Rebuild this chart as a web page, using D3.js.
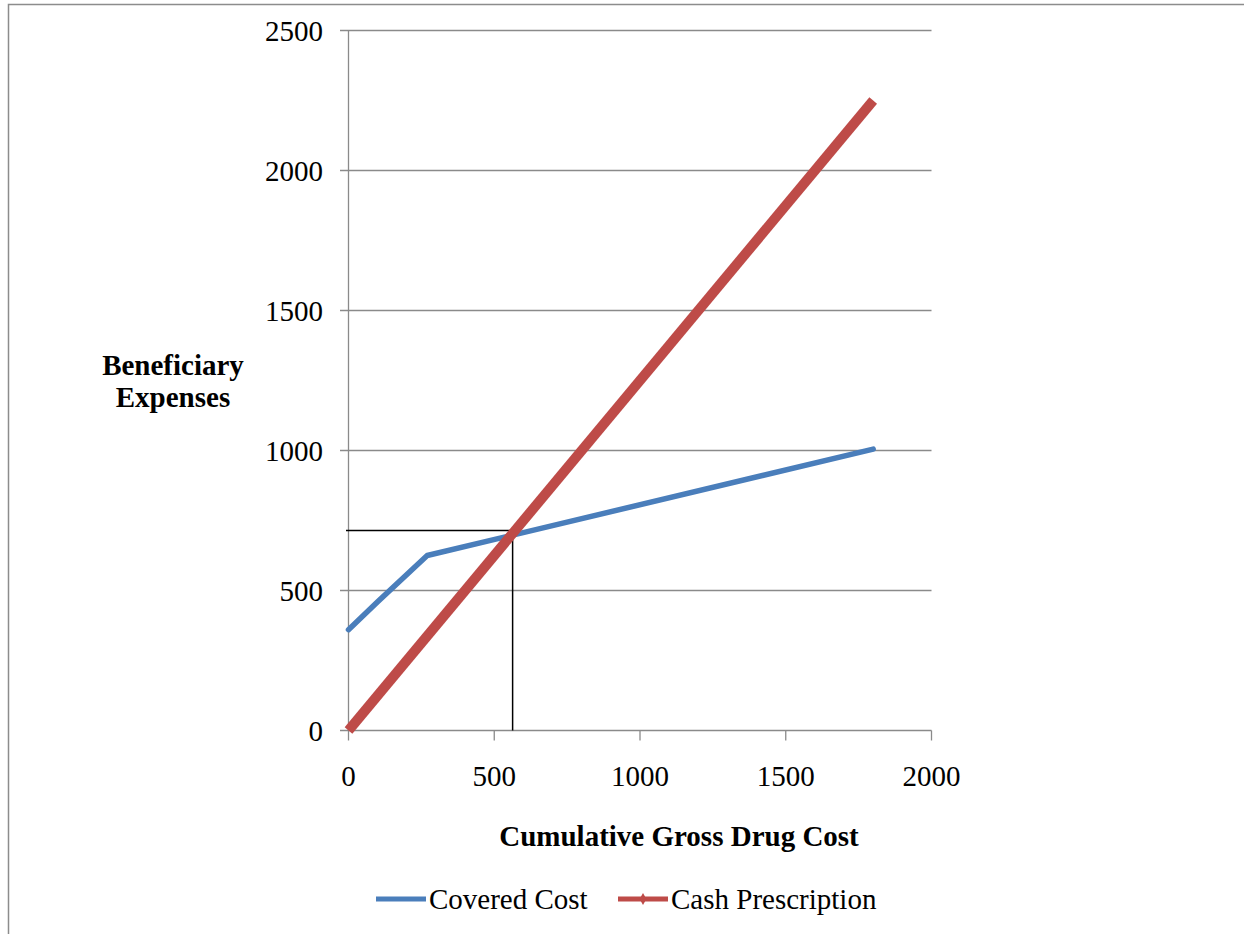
<!DOCTYPE html>
<html><head><meta charset="utf-8">
<script src="https://cdn.jsdelivr.net/npm/d3@7"></script>
<style>body{margin:0;background:#fff}svg{display:block}text{font-family:"Liberation Serif","Times New Roman",serif;fill:#000}</style>
</head><body><svg id="c" width="1244" height="934"></svg>
<script>
const xTicks = [0, 500, 1000, 1500, 2000];
const yTicks = [0, 500, 1000, 1500, 2000, 2500];
const coveredX = [0, 100, 270, 1800];
const coveredY = [360, 460, 625, 1005];
const cashX = [0, 1800];
const cashY = [0, 2250];
const refPoint = [563, 714];
const seriesNames = ["Covered Cost", "Cash Prescription"];
const xTitle = "Cumulative Gross Drug Cost";
const yTitle = ["Beneficiary", "Expenses"];

const svg = d3.select("#c");
const fs = 29;
svg.append("rect").attr("x", 8.5).attr("y", 4.5).attr("width", 1300).attr("height", 1000)
  .attr("fill", "none").attr("stroke", "#8c8c8c").attr("stroke-width", 1.5);

const x = d3.scaleLinear().domain([0, 2000]).range([348.5, 931.5]);
const y = d3.scaleLinear().domain([0, 2500]).range([730.5, 30.5]);

// gridlines
svg.append("g").selectAll("line").data(yTicks).join("line")
  .attr("x1", 340).attr("x2", x(2000)).attr("y1", d => y(d)).attr("y2", d => y(d))
  .attr("stroke", "#8a8a8a").attr("stroke-width", 1.3);
// y axis line
svg.append("line").attr("x1", x(0)).attr("x2", x(0)).attr("y1", y(2500)).attr("y2", y(0))
  .attr("stroke", "#8a8a8a").attr("stroke-width", 1.3);
// x axis ticks
svg.append("g").selectAll("line").data(xTicks).join("line")
  .attr("x1", d => x(d)).attr("x2", d => x(d)).attr("y1", y(0)).attr("y2", y(0) + 10)
  .attr("stroke", "#8a8a8a").attr("stroke-width", 1.3);

// y tick labels
svg.append("g").selectAll("text").data(yTicks).join("text")
  .attr("x", 323).attr("y", d => y(d) + 10).attr("text-anchor", "end")
  .attr("font-size", fs).text(d => d);
// x tick labels
svg.append("g").selectAll("text").data(xTicks).join("text")
  .attr("x", d => x(d)).attr("y", 786).attr("text-anchor", "middle")
  .attr("font-size", fs).text(d => d);

// reference lines
svg.append("line").attr("x1", 346).attr("x2", x(refPoint[0])).attr("y1", y(refPoint[1])).attr("y2", y(refPoint[1]))
  .attr("stroke", "#000").attr("stroke-width", 1.5);
svg.append("line").attr("x1", x(refPoint[0])).attr("x2", x(refPoint[0])).attr("y1", y(refPoint[1])).attr("y2", y(0))
  .attr("stroke", "#000").attr("stroke-width", 1.5);

const line = d3.line().x(d => x(d[0])).y(d => y(d[1]));
const blue = "#4A7EBB", red = "#BE4B48";
svg.append("path").datum(coveredX.map((v, i) => [v, coveredY[i]])).attr("d", line)
  .attr("fill", "none").attr("stroke", blue).attr("stroke-width", 5.5).attr("stroke-linejoin", "round").attr("stroke-linecap", "round");
svg.append("path").datum(cashX.map((v, i) => [v, cashY[i]])).attr("d", line)
  .attr("fill", "none").attr("stroke", red).attr("stroke-width", 10).attr("stroke-linecap", "butt");

// axis titles
const yt = svg.append("text").attr("font-size", fs).attr("font-weight", "bold").attr("text-anchor", "middle");
yTitle.forEach((t, i) => yt.append("tspan").attr("x", 173).attr("y", 375 + i * 32).text(t));
svg.append("text").attr("x", 679).attr("y", 846).attr("text-anchor", "middle")
  .attr("font-size", fs).attr("font-weight", "bold").text(xTitle);

// legend
const lg = svg.append("g");
lg.append("line").attr("x1", 376).attr("x2", 426).attr("y1", 899).attr("y2", 899).attr("stroke", blue).attr("stroke-width", 5);
lg.append("text").attr("x", 429).attr("y", 909).attr("font-size", fs).text(seriesNames[0]);
lg.append("line").attr("x1", 618).attr("x2", 668).attr("y1", 899).attr("y2", 899).attr("stroke", red).attr("stroke-width", 5);
lg.append("path").attr("d", d3.symbol(d3.symbolDiamond, 40)()).attr("transform", "translate(643,899)").attr("fill", red);
lg.append("text").attr("x", 671).attr("y", 909).attr("font-size", fs).text(seriesNames[1]);
</script></body></html>
